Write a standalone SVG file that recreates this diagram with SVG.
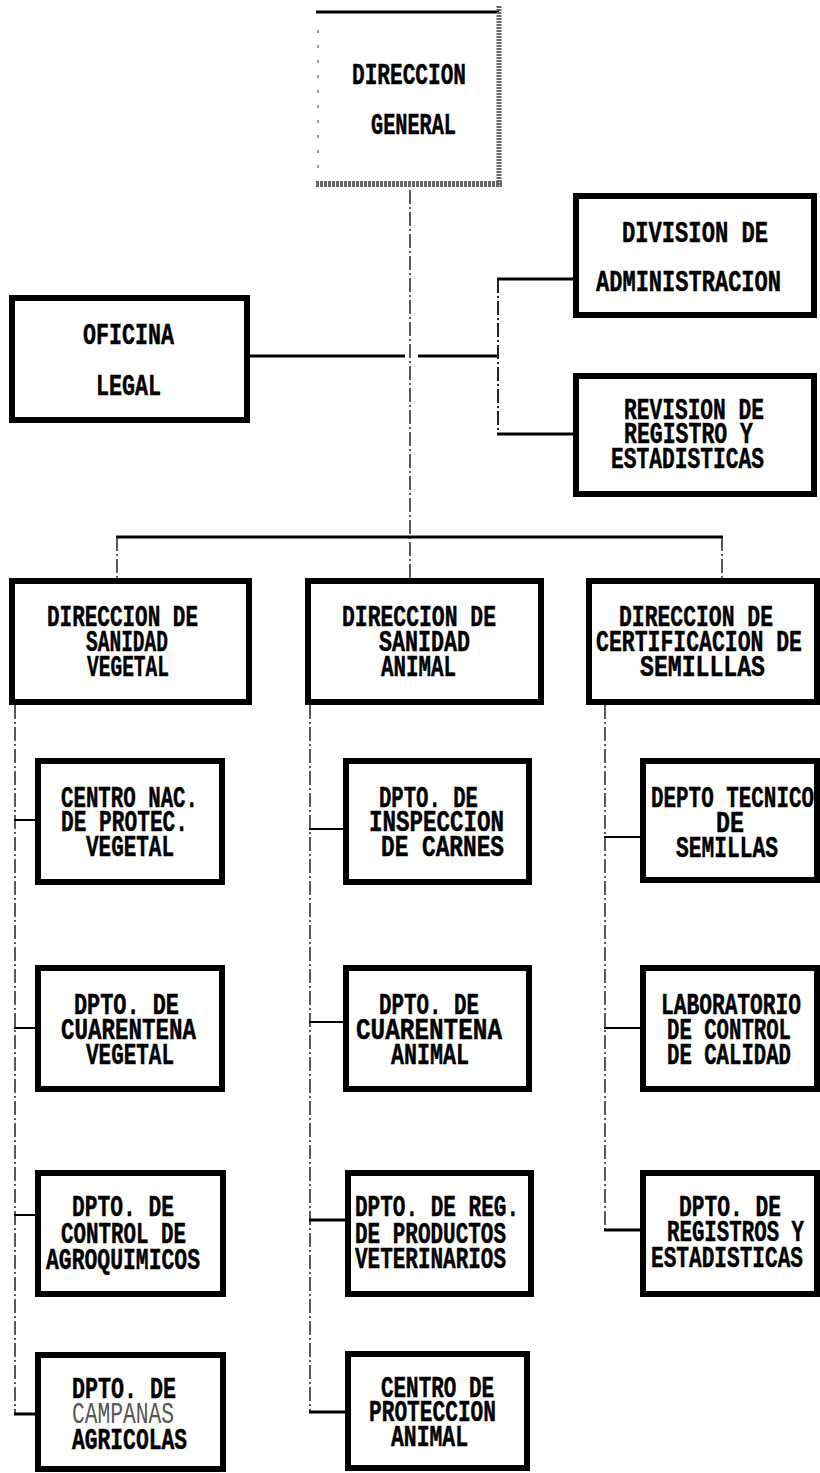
<svg xmlns="http://www.w3.org/2000/svg" width="820" height="1473" viewBox="0 0 820 1473">
<style>
.bg{fill:#fff}
.box{fill:#fff;stroke:#000;stroke-width:6}
.t{font-family:"Liberation Mono","DejaVu Sans Mono",monospace;font-weight:bold;font-size:30px;fill:#000;stroke:#000;stroke-width:0.5}
.faint{fill:#555;stroke:none;font-weight:normal}
.solid{stroke:#000;stroke-width:3;fill:none}
.thin{stroke:#000;stroke-width:2;fill:none}
.dash{stroke:#222;stroke-width:1.5;fill:none;stroke-dasharray:14 3 2 3}
</style>
<rect class="bg" x="0" y="0" width="820" height="1473"/>

<g id="connectors">
  <line class="dash" x1="410" y1="190" x2="410" y2="578"/>
  <line class="solid" x1="250" y1="356" x2="405" y2="356"/>
  <line class="solid" x1="418" y1="356" x2="498" y2="356"/>
  <line class="dash" x1="498" y1="279" x2="498" y2="434" style="stroke-width:2"/>
  <line class="solid" x1="497" y1="279" x2="573" y2="279"/>
  <line class="solid" x1="497" y1="434" x2="573" y2="434"/>
  <line class="solid" x1="116" y1="537" x2="723" y2="537"/>
  <line class="dash" x1="117" y1="537" x2="117" y2="578"/>
  <line class="dash" x1="722" y1="537" x2="722" y2="578"/>
  <line class="dash" x1="15" y1="705" x2="15" y2="1414"/>
  <line class="thin" x1="14" y1="820" x2="35" y2="820"/>
  <line class="thin" x1="14" y1="1028" x2="35" y2="1028"/>
  <line class="thin" x1="14" y1="1215" x2="35" y2="1215"/>
  <line class="solid" x1="14" y1="1414" x2="35" y2="1414"/>
  <line class="dash" x1="310" y1="705" x2="310" y2="1412"/>
  <line class="thin" x1="309" y1="829" x2="343" y2="829"/>
  <line class="thin" x1="309" y1="1022" x2="343" y2="1022"/>
  <line class="solid" x1="309" y1="1220" x2="345" y2="1220"/>
  <line class="solid" x1="309" y1="1412" x2="345" y2="1412"/>
  <line class="dash" x1="605" y1="705" x2="605" y2="1230"/>
  <line class="thin" x1="604" y1="837" x2="640" y2="837"/>
  <line class="thin" x1="604" y1="1028" x2="640" y2="1028"/>
  <line class="solid" x1="604" y1="1230" x2="640" y2="1230"/>
</g>

<g id="direccion-general">
  <line x1="316" y1="12" x2="499" y2="12" stroke="#000" stroke-width="3"/>
  <line x1="318" y1="30" x2="318" y2="172" stroke="#777" stroke-width="1.5" stroke-dasharray="3 12"/>
  <line x1="499" y1="6" x2="499" y2="187" stroke="#666" stroke-width="5" stroke-dasharray="2 1"/>
  <line x1="316" y1="184" x2="502" y2="184" stroke="#666" stroke-width="6" stroke-dasharray="3 1"/>
  <text class="t" x="352" y="84" textLength="114" lengthAdjust="spacingAndGlyphs">DIRECCION</text>
  <text class="t" x="371" y="134" textLength="85" lengthAdjust="spacingAndGlyphs">GENERAL</text>
</g>

<g id="oficina-legal">
  <rect class="box" x="12" y="298" width="235" height="122"/>
  <text class="t" x="83" y="344" textLength="91" lengthAdjust="spacingAndGlyphs">OFICINA</text>
  <text class="t" x="96" y="395" textLength="65" lengthAdjust="spacingAndGlyphs">LEGAL</text>
</g>

<g id="division-administracion">
  <rect class="box" x="576" y="196" width="238" height="119"/>
  <text class="t" x="622" y="242" textLength="146" lengthAdjust="spacingAndGlyphs">DIVISION DE</text>
  <text class="t" x="596" y="291" textLength="185" lengthAdjust="spacingAndGlyphs">ADMINISTRACION</text>
</g>

<g id="revision-registro">
  <rect class="box" x="576" y="376" width="238" height="118"/>
  <text class="t" x="624" y="419" textLength="140" lengthAdjust="spacingAndGlyphs">REVISION DE</text>
  <text class="t" x="624" y="443" textLength="129" lengthAdjust="spacingAndGlyphs">REGISTRO Y</text>
  <text class="t" x="611" y="468" textLength="153" lengthAdjust="spacingAndGlyphs">ESTADISTICAS</text>
</g>

<g id="sanidad-vegetal">
  <rect class="box" x="12" y="581" width="237" height="121"/>
  <text class="t" x="47" y="626" textLength="151" lengthAdjust="spacingAndGlyphs">DIRECCION DE</text>
  <text class="t" x="86" y="651" textLength="82" lengthAdjust="spacingAndGlyphs">SANIDAD</text>
  <text class="t" x="87" y="676" textLength="82" lengthAdjust="spacingAndGlyphs">VEGETAL</text>
</g>

<g id="sanidad-animal">
  <rect class="box" x="308" y="581" width="233" height="121"/>
  <text class="t" x="342" y="626" textLength="154" lengthAdjust="spacingAndGlyphs">DIRECCION DE</text>
  <text class="t" x="379" y="651" textLength="91" lengthAdjust="spacingAndGlyphs">SANIDAD</text>
  <text class="t" x="381" y="676" textLength="75" lengthAdjust="spacingAndGlyphs">ANIMAL</text>
</g>

<g id="certificacion-semillas">
  <rect class="box" x="589" y="581" width="228" height="121"/>
  <text class="t" x="619" y="626" textLength="154" lengthAdjust="spacingAndGlyphs">DIRECCION DE</text>
  <text class="t" x="596" y="651" textLength="206" lengthAdjust="spacingAndGlyphs">CERTIFICACION DE</text>
  <text class="t" x="640" y="676" textLength="125" lengthAdjust="spacingAndGlyphs">SEMILLLAS</text>
</g>

<g id="centro-nac-proteccion-vegetal">
  <rect class="box" x="38" y="761" width="184" height="121"/>
  <text class="t" x="61" y="807" textLength="137" lengthAdjust="spacingAndGlyphs">CENTRO NAC.</text>
  <text class="t" x="61" y="831" textLength="127" lengthAdjust="spacingAndGlyphs">DE PROTEC.</text>
  <text class="t" x="86" y="856" textLength="88" lengthAdjust="spacingAndGlyphs">VEGETAL</text>
</g>

<g id="cuarentena-vegetal">
  <rect class="box" x="38" y="968" width="184" height="121"/>
  <text class="t" x="74" y="1014" textLength="105" lengthAdjust="spacingAndGlyphs">DPTO. DE</text>
  <text class="t" x="61" y="1039" textLength="135" lengthAdjust="spacingAndGlyphs">CUARENTENA</text>
  <text class="t" x="86" y="1064" textLength="88" lengthAdjust="spacingAndGlyphs">VEGETAL</text>
</g>

<g id="control-agroquimicos">
  <rect class="box" x="38" y="1173" width="185" height="121"/>
  <text class="t" x="72" y="1216" textLength="102" lengthAdjust="spacingAndGlyphs">DPTO. DE</text>
  <text class="t" x="61" y="1243" textLength="125" lengthAdjust="spacingAndGlyphs">CONTROL DE</text>
  <text class="t" x="46" y="1269" textLength="154" lengthAdjust="spacingAndGlyphs">AGROQUIMICOS</text>
</g>

<g id="campanas-agricolas">
  <rect class="box" x="38" y="1355" width="185" height="114"/>
  <text class="t" x="72" y="1398" textLength="104" lengthAdjust="spacingAndGlyphs">DPTO. DE</text>
  <text class="t faint" x="72" y="1423" textLength="102" lengthAdjust="spacingAndGlyphs">CAMPANAS</text>
  <text class="t" x="72" y="1449" textLength="115" lengthAdjust="spacingAndGlyphs">AGRICOLAS</text>
</g>

<g id="inspeccion-carnes">
  <rect class="box" x="346" y="761" width="183" height="121"/>
  <text class="t" x="379" y="807" textLength="99" lengthAdjust="spacingAndGlyphs">DPTO. DE</text>
  <text class="t" x="369" y="831" textLength="135" lengthAdjust="spacingAndGlyphs">INSPECCION</text>
  <text class="t" x="381" y="856" textLength="123" lengthAdjust="spacingAndGlyphs">DE CARNES</text>
</g>

<g id="cuarentena-animal">
  <rect class="box" x="346" y="968" width="183" height="121"/>
  <text class="t" x="379" y="1014" textLength="100" lengthAdjust="spacingAndGlyphs">DPTO. DE</text>
  <text class="t" x="356" y="1039" textLength="146" lengthAdjust="spacingAndGlyphs">CUARENTENA</text>
  <text class="t" x="391" y="1064" textLength="78" lengthAdjust="spacingAndGlyphs">ANIMAL</text>
</g>

<g id="productos-veterinarios">
  <rect class="box" x="348" y="1173" width="183" height="121"/>
  <text class="t" x="355" y="1216" textLength="164" lengthAdjust="spacingAndGlyphs">DPTO. DE REG.</text>
  <text class="t" x="355" y="1243" textLength="151" lengthAdjust="spacingAndGlyphs">DE PRODUCTOS</text>
  <text class="t" x="355" y="1268" textLength="151" lengthAdjust="spacingAndGlyphs">VETERINARIOS</text>
</g>

<g id="centro-proteccion-animal">
  <rect class="box" x="348" y="1354" width="179" height="114"/>
  <text class="t" x="381" y="1397" textLength="113" lengthAdjust="spacingAndGlyphs">CENTRO DE</text>
  <text class="t" x="369" y="1421" textLength="127" lengthAdjust="spacingAndGlyphs">PROTECCION</text>
  <text class="t" x="391" y="1446" textLength="77" lengthAdjust="spacingAndGlyphs">ANIMAL</text>
</g>

<g id="depto-tecnico-semillas">
  <rect class="box" x="643" y="761" width="174" height="119"/>
  <text class="t" x="651" y="807" textLength="163" lengthAdjust="spacingAndGlyphs">DEPTO TECNICO</text>
  <text class="t" x="716" y="832" textLength="28" lengthAdjust="spacingAndGlyphs">DE</text>
  <text class="t" x="676" y="857" textLength="102" lengthAdjust="spacingAndGlyphs">SEMILLAS</text>
</g>

<g id="laboratorio-control-calidad">
  <rect class="box" x="643" y="968" width="174" height="121"/>
  <text class="t" x="661" y="1014" textLength="140" lengthAdjust="spacingAndGlyphs">LABORATORIO</text>
  <text class="t" x="667" y="1039" textLength="124" lengthAdjust="spacingAndGlyphs">DE CONTROL</text>
  <text class="t" x="667" y="1064" textLength="124" lengthAdjust="spacingAndGlyphs">DE CALIDAD</text>
</g>

<g id="registros-estadisticas">
  <rect class="box" x="643" y="1173" width="174" height="121"/>
  <text class="t" x="679" y="1216" textLength="102" lengthAdjust="spacingAndGlyphs">DPTO. DE</text>
  <text class="t" x="667" y="1241" textLength="137" lengthAdjust="spacingAndGlyphs">REGISTROS Y</text>
  <text class="t" x="651" y="1267" textLength="152" lengthAdjust="spacingAndGlyphs">ESTADISTICAS</text>
</g>
</svg>
